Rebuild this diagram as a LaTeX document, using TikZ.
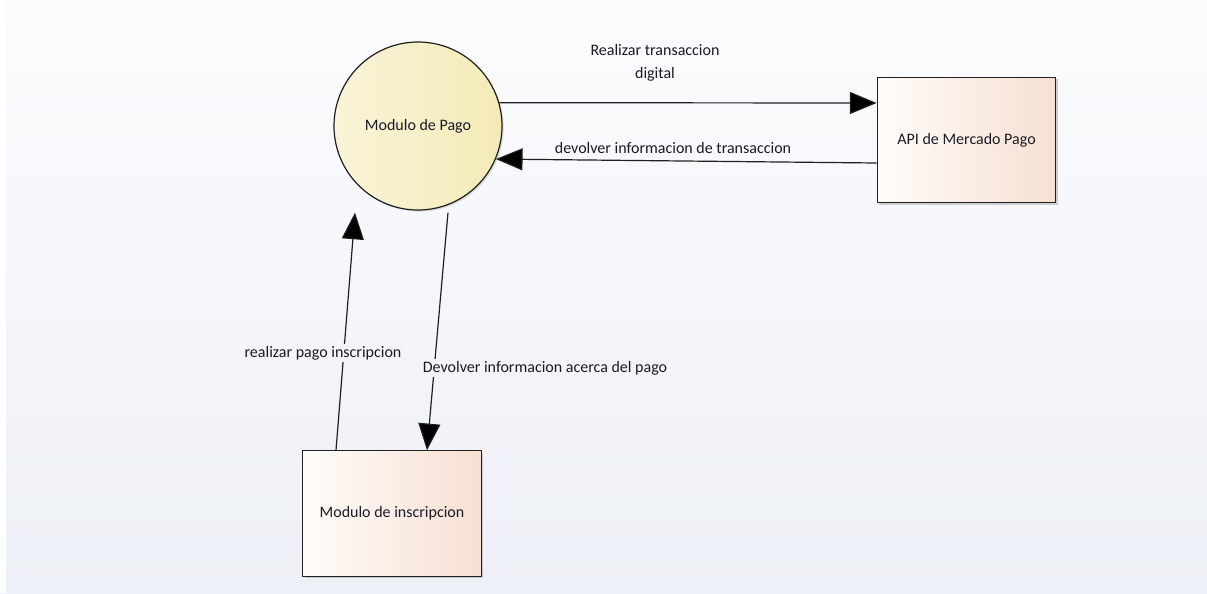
\documentclass[tikz,border=0pt]{standalone}
\usepackage{fontspec}
\setmainfont{Carlito}
\usetikzlibrary{arrows.meta,calc,shadows}

\definecolor{bgtop}{HTML}{FCFCFE}
\definecolor{bgbot}{HTML}{EDF0F6}
\definecolor{edge}{HTML}{202020}
\definecolor{ink}{HTML}{1A1A26}
\definecolor{pagoL}{HTML}{FAF4D8}
\definecolor{pagoR}{HTML}{F4EAB8}
\definecolor{boxL}{HTML}{FFFCFA}
\definecolor{boxM}{HTML}{FCF3EE}
\definecolor{boxR}{HTML}{F6E0D2}

\tikzset{
  txt/.style={font=\fontsize{12pt}{14pt}\selectfont, text=ink},
  procnode/.style={circle, draw=edge, line width=0.9pt, minimum size=126pt,
    inner sep=0pt, left color=pagoL, right color=pagoR, txt,
    drop shadow={shadow xshift=1.2pt, shadow yshift=-1.2pt, opacity=0.25, fill=gray}},
  extnode/.style={rectangle, draw=edge, line width=0.9pt, minimum width=134pt,
    minimum height=94pt, inner sep=0pt, left color=boxL, middle color=boxM,
    right color=boxR, txt,
    drop shadow={shadow xshift=1.5pt, shadow yshift=-1.5pt, opacity=0.35, fill=gray}},
  flow/.style={draw=edge, line width=0.9pt,
    -{Triangle[length=20pt,width=16.5pt,fill=black]}},
  lbl/.style={txt, inner sep=1pt},
  lblbg/.style={lbl, fill=#1, inner sep=1.5pt},
}

\begin{document}
\begin{tikzpicture}[x=0.75pt,y=-0.75pt]
  % canvas
  \shade[top color=bgtop, bottom color=bgbot] (0,0) rectangle (1207,593);
  \fill[white] (0,0) rectangle (6,593);
  \useasboundingbox (0,0) rectangle (1207,593);

  % processes and external entities
  \node[procnode] (pago) at (418,126) {Modulo de Pago};
  \node[extnode] (api) at (966.5,140) {API de Mercado Pago};
  \node[extnode] (insc) at (392,513.5) {Modulo de inscripcion};

  % data flows
  \draw[flow] (pago.16) -- ($(api.west)+(0,-37)$);
  \draw[flow] ($(api.west)+(0,23)$) -- (pago.-23);
  \draw[flow] ($(insc.north)+(-56,0)$) -- ($(pago.south)+(-63,2)$);
  \draw[flow] ($(pago.south)+(30,2)$) -- ($(insc.north)+(35,0)$);

  % flow labels
  \node[lbl, align=center, font=\fontsize{12pt}{17.25pt}\selectfont] (l1) at (655,63)
    {Realizar transaccion\\digital};
  \node[lbl] (l2) at (673,148) {devolver informacion de transaccion};
  \node[lblbg=bgbot!70!bgtop] (l3) at (323,353) {realizar pago inscripcion};
  \node[lblbg=bgbot!70!bgtop] (l4) at (545,368) {Devolver informacion acerca del pago};
\end{tikzpicture}
\end{document}
